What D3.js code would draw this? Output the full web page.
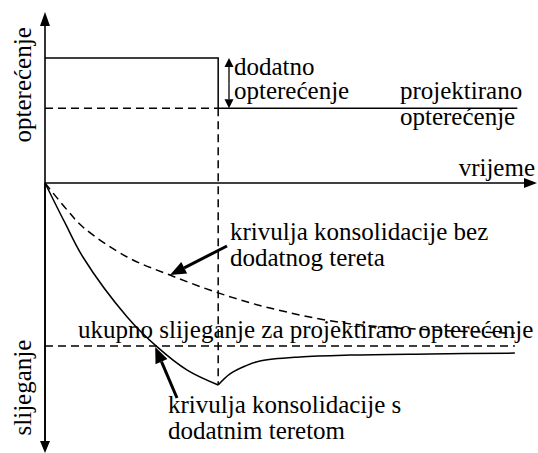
<!DOCTYPE html>
<html>
<head>
<meta charset="utf-8">
<script src="https://cdn.jsdelivr.net/npm/d3@7"></script>
<style>
  body { margin: 0; background: #fff; }
  #svgDiv { position: relative; width: 538px; height: 453px; }
  #svgDiv svg { position: absolute; left: 0; top: 0; }
  .lbl {
    position: absolute;
    font-family: 'Liberation Serif', 'Times New Roman', serif;
    font-size: 25px;
    line-height: 28px;
    white-space: nowrap;
    color: #000;
  }
</style>
</head>
<body>
<div id="svgDiv"></div>
<script>
// load levels (top half) and settlement curves (bottom half), time in % of span
const fullLoad = 7.35,
      designLoad = 4.4,
      tUnload = 35.2,
      tLoadEnd = 96,
      finalSettlement = 6.04,
      tSettleEnd = 95.5;

// settlement with extra load, up to the moment it is removed
const withLoadT = [0, 4.07, 7.7, 16.7, 22.8, 28.9, 35.2];
const withLoadS = [0, 1.48, 2.74, 4.96, 6.07, 6.93, 7.48];
// rebound after removal
const reboundT = [35.2, 37.6, 40.7, 43.7, 51.8, 62, 78.3, 95.5];
const reboundS = [7.48, 7.07, 6.78, 6.59, 6.44, 6.37, 6.33, 6.3];
// settlement without extra load
const noLoadT = [0, 4.5, 7.7, 16.7, 25.4, 35.2, 45.7, 61, 78.3, 95.5];
const noLoadS = [0, 1.0, 1.63, 2.74, 3.41, 4.07, 4.63, 5.19, 5.44, 5.56];

var width = 538, height = 453;

var box = d3.select('#svgDiv');
var svg = box.append('svg')
        .attr('width', width)
        .attr('height', height);

// scales
var x = d3.scaleLinear().domain([0, 100]).range([45, 537]);
var yL = d3.scaleLinear().domain([0, 10]).range([183, 13]);
var yS = d3.scaleLinear().domain([0, 10]).range([183, 453]);

// filled arrow head at (x2,y2) pointing away from (x1,y1)
function arrow(x1, y1, x2, y2, len, half, sw){
    var a = Math.atan2(y2 - y1, x2 - x1),
        bx = x2 - len * Math.cos(a),
        by = y2 - len * Math.sin(a);
    svg.append('line')
        .attr('x1', x1).attr('y1', y1).attr('x2', bx).attr('y2', by)
        .style('stroke', '#000').style('stroke-width', sw);
    svg.append('path')
        .attr('d', 'M' + x2 + ',' + y2 +
                   'L' + (bx + half * Math.sin(a)) + ',' + (by - half * Math.cos(a)) +
                   'L' + (bx - half * Math.sin(a)) + ',' + (by + half * Math.cos(a)) + 'Z')
        .style('fill', '#000');
}

// axes
arrow(x(0), yS(10) - 2, x(0), 12, 14, 5, 1.6);
arrow(x(0), yL(0), x(0), 453, 12, 5, 1.6);
arrow(x(0), yL(0), 537, yL(0), 13, 5, 1.6);

var line = d3.line().x(d => x(d[0]));

// load diagram
svg.append('path')
    .attr('d', line.y(d => yL(d[1]))([[0, fullLoad], [tUnload, fullLoad], [tUnload, designLoad], [tLoadEnd, designLoad]]))
    .style('fill', 'none').style('stroke', '#000').style('stroke-width', 1.5);
svg.append('path')
    .attr('d', line.y(d => yL(d[1]))([[0, designLoad], [tUnload, designLoad]]))
    .style('fill', 'none').style('stroke', '#000').style('stroke-width', 1.5)
    .style('stroke-dasharray', '8,5');

// vertical dashed at the moment of unloading
svg.append('line')
    .attr('x1', x(tUnload)).attr('x2', x(tUnload))
    .attr('y1', yL(designLoad)).attr('y2', yS(withLoadS[withLoadS.length - 1]))
    .style('stroke', '#000').style('stroke-width', 1.5)
    .style('stroke-dasharray', '8,5');

// final settlement level
svg.append('line')
    .attr('x1', x(0)).attr('x2', x(tSettleEnd))
    .attr('y1', yS(finalSettlement)).attr('y2', yS(finalSettlement))
    .style('stroke', '#000').style('stroke-width', 1.5)
    .style('stroke-dasharray', '8,5');

// settlement curves
var curve = d3.line().x(d => x(d[0])).y(d => yS(d[1])).curve(d3.curveCatmullRom);
svg.append('path')
    .attr('d', curve(d3.zip(noLoadT, noLoadS)))
    .style('fill', 'none').style('stroke', '#000').style('stroke-width', 1.5)
    .style('stroke-dasharray', '8,5');
svg.append('path')
    .attr('d', curve(d3.zip(withLoadT, withLoadS)))
    .style('fill', 'none').style('stroke', '#000').style('stroke-width', 1.5);
svg.append('path')
    .attr('d', curve(d3.zip(reboundT, reboundS)))
    .style('fill', 'none').style('stroke', '#000').style('stroke-width', 1.5);

// double arrow for the extra load
arrow(229, (yL(fullLoad) + yL(designLoad)) / 2, 229, yL(fullLoad), 9, 4.5, 1.3);
arrow(229, (yL(fullLoad) + yL(designLoad)) / 2, 229, yL(designLoad), 9, 4.5, 1.3);

// pointer arrows
arrow(227, 246, x(25.4), yS(3.41), 16, 6.5, 3);
arrow(177, 398, x(22.4), yS(6.07), 16, 6.5, 3);

// labels as html text over the svg; (tx, ty) is the baseline point
var ascent = 22.3 + (28 - 27.7) / 2;
function label(tx, ty, str, anchor){
    var d = box.append('div').classed('lbl', true)
        .style('top', (ty - ascent) + 'px')
        .text(str);
    if(anchor == 'end'){
        d.style('right', (width - tx) + 'px');
    } else {
        d.style('left', tx + 'px');
    }
    return d;
}
label(234, 75, 'dodatno');
label(234, 99, 'opterećenje');
label(400, 99, 'projektirano');
label(400, 125, 'opterećenje');
label(535, 176, 'vrijeme', 'end');
label(230, 240, 'krivulja konsolidacije bez');
label(230, 266, 'dodatnog tereta');
label(78, 338, 'ukupno slijeganje za projektirano opterećenje');
label(168, 413, 'krivulja konsolidacije s');
label(168, 439, 'dodatnim teretom');

// rotated axis titles, turned round their baseline start point
label(31, 142, 'opterećenje')
    .style('transform-origin', '0px ' + ascent + 'px')
    .style('transform', 'rotate(-90deg)');
label(31, 435, 'slijeganje')
    .style('transform-origin', '0px ' + ascent + 'px')
    .style('transform', 'rotate(-90deg)');
</script>
</body>
</html>
